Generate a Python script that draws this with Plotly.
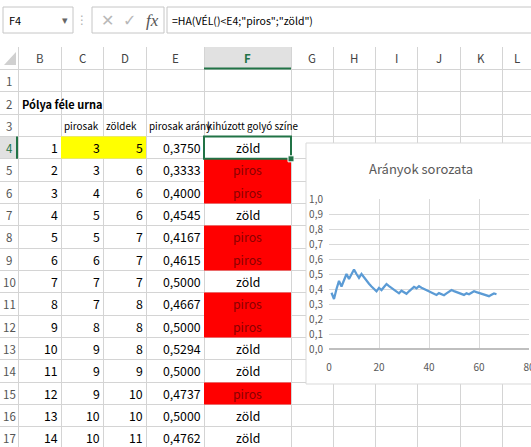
import plotly.graph_objects as go

# ------------------------------------------------------------------ data
col_letters = ["B", "C", "D", "E", "F", "G", "H", "I", "J", "K", "L"]
row_numbers = list(range(1, 18))

sheet_title = "Pólya féle urna"
col_headers = ["pirosak", "zöldek", "pirosak arány", "kihúzott golyó színe"]

step_idx = list(range(1, 15))
pirosak = [3, 3, 4, 5, 5, 6, 7, 7, 8, 9, 9, 9, 10, 10]
zoldek = [5, 6, 6, 6, 7, 7, 7, 8, 8, 8, 9, 10, 10, 11]
szin = ["zöld", "piros", "piros", "zöld", "piros", "piros", "zöld",
        "piros", "piros", "zöld", "zöld", "piros", "zöld", "zöld"]

# ratio series shown in the chart (x = step, y = pirosak arány)
ratio_x = list(range(1, 68))
ratio_y = [0.3750, 0.3333, 0.4000, 0.4545, 0.4167, 0.4615, 0.5000, 0.4667, 0.5000, 0.5294,
           0.5000, 0.4737, 0.5000, 0.4762, 0.4545, 0.4348, 0.4167, 0.4000, 0.3846, 0.4074,
           0.3929, 0.4138, 0.4333, 0.4194, 0.4063, 0.3939, 0.3824, 0.3714, 0.3889, 0.3784,
           0.3684, 0.3846, 0.4000, 0.4146, 0.4048, 0.4186, 0.4091, 0.4000, 0.3913, 0.3830,
           0.3750, 0.3673, 0.3600, 0.3725, 0.3654, 0.3585, 0.3704, 0.3818, 0.3929, 0.3860,
           0.3793, 0.3729, 0.3667, 0.3607, 0.3710, 0.3651, 0.3750, 0.3846, 0.3788, 0.3731,
           0.3676, 0.3623, 0.3571, 0.3521, 0.3611, 0.3699, 0.3649]

chart_title = "Arányok sorozata"
chart_x_ticks = [0, 20, 40, 60, 80]
chart_y_ticks = [0.0, 0.1, 0.2, 0.3, 0.4, 0.5, 0.6, 0.7, 0.8, 0.9, 1.0]

name_box = "F4"
formula = '=HA(VÉL()<E4;"piros";"zöld")'

# ------------------------------------------------------------------ layout constants
W, H = 531, 447
COL_EDGES = [0, 18, 61, 103, 146, 204, 291, 333, 375, 417, 460, 502, 545]
HDR_TOP = 47
ROW1_TOP = 69.5
ROW_H = 22.33


def rtop(r):
    return ROW1_TOP + (r - 1) * ROW_H


def rmid(r):
    return rtop(r) + ROW_H / 2 + 0.5


FONT = "Noto Sans CJK JP, Noto Sans, sans-serif"
FS = 12.3
GRID = "#d4d4d4"
GREEN = "#217346"
RED_FILL = "#ff0000"
YELLOW = "#ffff00"

fig = go.Figure()

# ---- cell fills (heatmap with explicit cell edges; None = no fill)
z = []
for i, c in enumerate(szin):
    row = [None, None, None, None]
    if i == 0:
        row[0] = 1
        row[1] = 1
    if c == "piros":
        row[3] = 2
    z.append(row)
fig.add_trace(go.Heatmap(
    x=COL_EDGES[2:7],
    y=[rtop(r) for r in range(4, 19)],
    z=z, zmin=1, zmax=2,
    colorscale=[[0, YELLOW], [0.5, YELLOW], [0.5, RED_FILL], [1, RED_FILL]],
    showscale=False, hoverinfo="skip", xaxis="x", yaxis="y",
))

# ---- chart line
fig.add_trace(go.Scatter(
    x=ratio_x, y=ratio_y, mode="lines",
    line=dict(color="#5b9bd5", width=2.25),
    xaxis="x2", yaxis="y2", hoverinfo="skip", showlegend=False,
))

shapes = []
ann = []


def text(x, y, s, anchor="center", color="#000000", size=FS, bold=False, family=FONT):
    if bold:
        s = "<b>" + s + "</b>"
    ann.append(dict(x=x, y=y, xref="x", yref="y", text=s, showarrow=False,
                    xanchor=anchor, yanchor="middle", borderpad=0,
                    font=dict(family=family, size=size, color=color)))


# white formula-bar area (covers sheet grid)
shapes.append(dict(type="rect", xref="x", yref="y", x0=0, x1=W, y0=0, y1=HDR_TOP,
                   fillcolor="white", line=dict(width=0), layer="between"))
# selected column / row header backgrounds
shapes.append(dict(type="rect", xref="x", yref="y", x0=COL_EDGES[5], x1=COL_EDGES[6],
                   y0=HDR_TOP, y1=ROW1_TOP, fillcolor="#e1e1e1", line=dict(width=0), layer="below"))
shapes.append(dict(type="rect", xref="x", yref="y", x0=0, x1=COL_EDGES[1],
                   y0=rtop(4), y1=rtop(5), fillcolor="#e1e1e1", line=dict(width=0), layer="below"))
# chart frame
shapes.append(dict(type="rect", xref="x", yref="y", x0=306, x1=537, y0=143, y1=384,
                   fillcolor="white", line=dict(color="#d9d9d9", width=1), layer="between"))
# green header markers
shapes.append(dict(type="line", xref="x", yref="y", x0=COL_EDGES[5], x1=COL_EDGES[6],
                   y0=ROW1_TOP - 1, y1=ROW1_TOP - 1, line=dict(color=GREEN, width=2), layer="above"))
shapes.append(dict(type="line", xref="x", yref="y", x0=COL_EDGES[1] - 1, x1=COL_EDGES[1] - 1,
                   y0=rtop(4), y1=rtop(5), line=dict(color=GREEN, width=2), layer="above"))
# active cell F4
shapes.append(dict(type="rect", xref="x", yref="y", x0=COL_EDGES[5], x1=COL_EDGES[6],
                   y0=rtop(4), y1=rtop(5), line=dict(color=GREEN, width=2), layer="above"))
shapes.append(dict(type="rect", xref="x", yref="y", x0=COL_EDGES[6] - 3, x1=COL_EDGES[6] + 3,
                   y0=rtop(5) - 3, y1=rtop(5) + 3, fillcolor=GREEN,
                   line=dict(color="white", width=1), layer="above"))
# select-all corner triangle
shapes.append(dict(type="path", xref="x", yref="y", path="M 16 52 L 16 65 L 4 65 Z",
                   fillcolor="#d0d0d0", line=dict(width=0), layer="above"))
# formula bar boxes
for x0, x1 in [(3, 73), (92, 164), (167, 540)]:
    shapes.append(dict(type="rect", xref="x", yref="y", x0=x0, x1=x1, y0=7, y1=33,
                       fillcolor="white", line=dict(color="#c6c6c6", width=1), layer="above"))

# formula bar texts
text(8, 20, name_box, "left", "#000000", 11)
text(65, 20, "▾", "center", "#666666", 11, family="DejaVu Sans")
text(82, 20, "⋮", "center", "#b0b0b0", 12, family="DejaVu Sans")
text(107, 20, "✕", "center", "#b8b8b8", 16, family="DejaVu Sans")
text(129, 20, "✓", "center", "#b8b8b8", 16, family="DejaVu Sans")
text(152, 20, "<i>fx</i>", "center", "#555555", 17, family="Liberation Serif, serif")
text(171, 20, formula, "left", "#000000", 10.5)

# column letters
for i, L in enumerate(col_letters):
    cx = (COL_EDGES[i + 1] + min(COL_EDGES[i + 2], W)) / 2
    if L == "F":
        text(cx, 58, L, "center", GREEN, 11.5, bold=True)
    else:
        text(cx, 58, L, "center", "#444444", 11.5)
# row numbers
for r in row_numbers:
    text(9, rmid(r), str(r), "center", GREEN if r == 4 else "#555555", 11.5)

# sheet content
text(COL_EDGES[1] + 3, rmid(2), sheet_title, "left", size=11, bold=True)
for j, h in enumerate(col_headers):
    text(COL_EDGES[2 + j] + 2, rmid(3), h, "left", size=9.9)
for i in range(len(step_idx)):
    r = 4 + i
    text(COL_EDGES[2] - 2, rmid(r), str(step_idx[i]), "right")
    text(COL_EDGES[3] - 2, rmid(r), str(pirosak[i]), "right")
    text(COL_EDGES[4] - 2, rmid(r), str(zoldek[i]), "right")
    text(COL_EDGES[5] - 2, rmid(r), f"{ratio_y[i]:.4f}".replace(".", ","), "right")
    text((COL_EDGES[5] + COL_EDGES[6]) / 2, rmid(r), szin[i], "center",
         "#8b0000" if szin[i] == "piros" else "#000000")

# chart title
ann.append(dict(x=421, y=168, xref="x", yref="y", text=chart_title, showarrow=False,
                xanchor="center", yanchor="middle",
                font=dict(family=FONT, size=13, color="#595959")))

row_edges = [ROW1_TOP] + [rtop(r) for r in range(2, 19)]

fig.update_layout(
    width=W, height=H, autosize=False,
    margin=dict(l=0, r=0, t=0, b=0, pad=0, autoexpand=False),
    paper_bgcolor="white", plot_bgcolor="rgba(0,0,0,0)",
    separators=", ", showlegend=False,
    shapes=shapes, annotations=ann,
    xaxis=dict(domain=[0, 1], range=[0, W], tickvals=COL_EDGES[1:], showticklabels=False,
               showgrid=True, gridcolor=GRID, gridwidth=1, zeroline=False, ticks="",
               fixedrange=True, anchor="y", automargin=False),
    yaxis=dict(domain=[0, 1], range=[H, 0], tickvals=row_edges, showticklabels=False,
               showgrid=True, gridcolor=GRID, gridwidth=1, zeroline=False, ticks="",
               fixedrange=True, anchor="x", automargin=False),
    xaxis2=dict(domain=[329 / W, 529 / W], range=[0, 80], tickvals=chart_x_ticks,
                showgrid=True, gridcolor="#d9d9d9", zeroline=False, showline=False,
                ticks="", ticklabelstandoff=11, ticklabeloverflow="allow",
                fixedrange=True, anchor="y2", automargin=False,
                tickfont=dict(family=FONT, size=10, color="#595959")),
    yaxis2=dict(domain=[(H - 349) / H, (H - 199) / H], range=[0, 1], tickvals=chart_y_ticks,
                tickformat=".1f", showgrid=True, gridcolor="#d9d9d9", zeroline=True,
                zerolinecolor="#bfbfbf", showline=False, ticks="", ticklabelstandoff=5,
                fixedrange=True, anchor="x2", automargin=False,
                tickfont=dict(family=FONT, size=10, color="#595959")),
)

fig.write_html("out.html", config={"displayModeBar": False},
               post_script="document.body.style.margin='0';")
